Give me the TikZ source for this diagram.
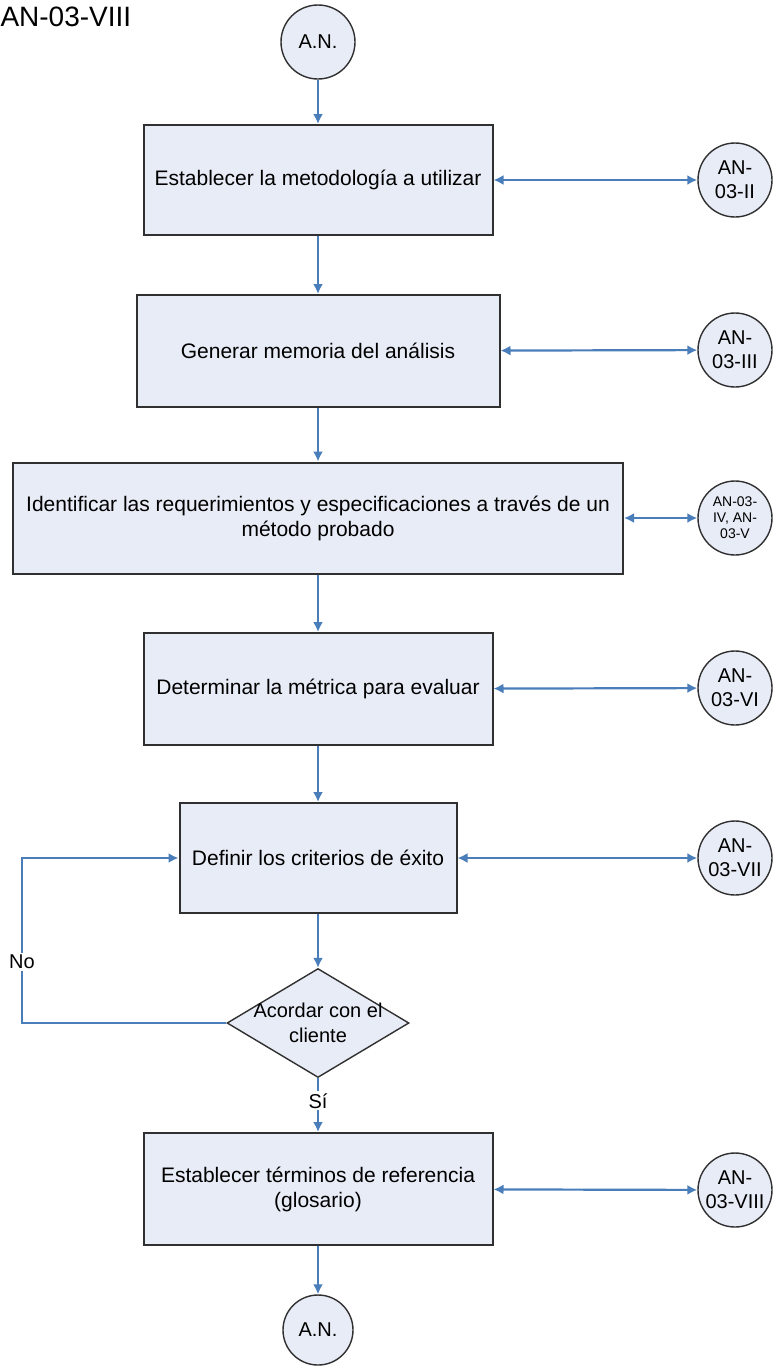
\documentclass[tikz,border=0pt]{standalone}
\usepackage{fontspec}
\setmainfont{Liberation Sans}
\usetikzlibrary{shapes.geometric,arrows.meta}
\definecolor{boxfill}{HTML}{E8ECF6}
\definecolor{linkblue}{HTML}{4A7EBB}
\definecolor{rim}{HTML}{303030}
\tikzstyle{task}=[rectangle, draw=rim, line width=2pt, fill=boxfill, align=center, font=\fontsize{21}{25}\selectfont]
\tikzstyle{ref}=[circle, draw=rim, line width=1.4pt, fill=boxfill, align=center, inner sep=0pt, minimum size=74pt, font=\fontsize{20}{24}\selectfont]
\tikzstyle{decision}=[diamond, draw=rim, line width=1.4pt, fill=boxfill, inner sep=0pt, minimum width=182pt, minimum height=109pt]
\tikzstyle{flow}=[draw=linkblue, line width=2.2pt, -{Latex[length=10pt,width=10pt]}]
\tikzstyle{both}=[draw=linkblue, line width=2.2pt, {Latex[length=10pt,width=10pt]}-{Latex[length=10pt,width=10pt]}]
\tikzstyle{answer}=[fill=white, inner sep=2pt, font=\fontsize{20}{24}\selectfont]

\begin{document}
\begin{tikzpicture}[x=1pt,y=-1pt]
\useasboundingbox (0,0) rectangle (772,1366);
\fill[white] (0,0) rectangle (772,1366);
\draw (-3,17) node[anchor=west, font=\fontsize{28}{30}\selectfont] (title) {AN-03-VIII};
\draw (318,42) node[ref] (start) {A.N.};

\draw (318,180) node[task, minimum width=349pt, minimum height=110pt] (b1) {Establecer la metodología a utilizar};
\draw (318,351) node[task, minimum width=363pt, minimum height=112pt] (b2) {Generar memoria del análisis};
\draw (318,518) node[task, minimum width=610pt, minimum height=111pt] (b3) {Identificar las requerimientos y especificaciones a través de un\\método probado};
\draw (318,689) node[task, minimum width=349pt, minimum height=112pt] (b4) {Determinar la métrica para evaluar};
\draw (318,858) node[task, minimum width=277pt, minimum height=110pt] (b5) {Definir los criterios de éxito};
\draw (318,1023) node[decision, label={[align=center, font=\fontsize{20}{25}\selectfont]center:Acordar con el\\cliente}] (agree) {};
\draw (318,1189) node[task, minimum width=349pt, minimum height=112pt] (b6) {Establecer términos de referencia\\(glosario)};
\draw (318,1330) node[ref, minimum size=70pt] (finish) {A.N.};

\draw (735,180) node[ref] (r1) {AN-\\03-II};
\draw (735,350) node[ref] (r2) {AN-\\03-III};
\draw (735,518) node[ref, font=\fontsize{14}{16}\selectfont] (r3) {AN-03-\\IV, AN-\\03-V};
\draw (735,688) node[ref] (r4) {AN-\\03-VI};
\draw (735,858) node[ref] (r5) {AN-\\03-VII};
\draw (735,1190) node[ref] (r6) {AN-\\03-VIII};

\draw[flow] (start) -- (b1);
\draw[flow] (b1) -- (b2);
\draw[flow] (b2) -- (b3);
\draw[flow] (b3) -- (b4);
\draw[flow] (b4) -- (b5);
\draw[flow] (b5) -- (agree);
\draw[flow] (agree) -- node[answer, pos=0.42] {Sí} (b6);
\draw[flow] (b6) -- (finish);

\draw[both] (b1) -- (r1);
\draw[both] (b2) -- (r2);
\draw[both] (b3) -- (r3);
\draw[both] (b4) -- (r4);
\draw[both] (b5) -- (r5);
\draw[both] (b6) -- (r6);

% vuelta cuando el cliente no acepta
\coordinate (noA) at (22,1023);
\coordinate (noB) at (22,858);
\draw[flow] (agree.west) -- (noA) -- node[answer, pos=0.37] {No} (noB) -- (b5.west);
\end{tikzpicture}
\end{document}
